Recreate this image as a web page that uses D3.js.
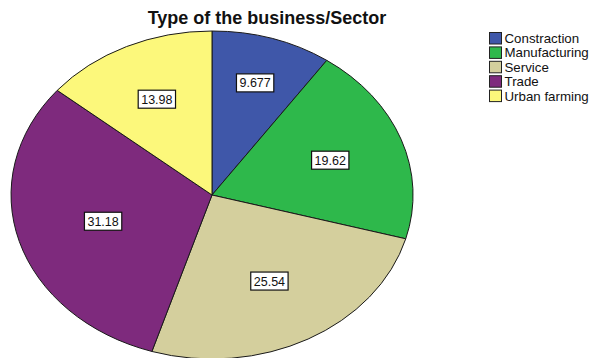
<!DOCTYPE html>
<html>
<head>
<meta charset="utf-8">
<script src="https://cdn.jsdelivr.net/npm/d3@7"></script>
<style>
  html, body { margin: 0; padding: 0; background: #fff; }
  svg { display: block; font-family: "Liberation Sans", Arial, sans-serif; }
</style>
</head>
<body>
<svg id="chart" width="593" height="358"></svg>
<script>
// Share of respondents by type of business (percent)
const categories = ["Constraction", "Manufacturing", "Service", "Trade", "Urban farming"];
const values = [9.677, 19.62, 25.54, 31.18, 13.98];
const valueLabels = ["9.677", "19.62", "25.54", "31.18", "13.98"];
const colors = ["#3f57a9", "#2eb84b", "#d4cf9d", "#7e2a7d", "#fcf87b"];

const svg = d3.select("#chart");

// Elliptical pie: drawn on a unit circle, then stretched
const cx = 212, cy = 195, rx = 201, ry = 164;

const pie = d3.pie().sort(null).value(d => d)(values);
const arc = d3.arc().innerRadius(0).outerRadius(1);

const color = d3.scaleOrdinal().domain(categories).range(colors);

const pieG = svg.append("g")
  .attr("transform", `translate(${cx},${cy}) scale(${rx},${ry})`);

pieG.selectAll("path")
  .data(pie)
  .join("path")
  .attr("d", arc)
  .attr("fill", (d, i) => color(categories[i]))
  .attr("stroke", "#1a1a1a")
  .attr("stroke-width", 1)
  .attr("vector-effect", "non-scaling-stroke");

// Value labels in white boxes, placed at each sector's area centroid
const labG = svg.append("g");
pie.forEach((d, i) => {
  const half = (d.endAngle - d.startAngle) / 2;
  const mid = d.startAngle + half;
  const r = (2 * Math.sin(half)) / (3 * half) + (half < 0.35 ? 0.06 : 0);
  const x = cx + Math.sin(mid) * r * rx;
  const y = cy - Math.cos(mid) * r * ry;
  const g = labG.append("g").attr("transform", `translate(${x},${y})`);
  const t = g.append("text")
    .attr("text-anchor", "middle")
    .attr("dy", "0.36em")
    .attr("font-size", 12.5)
    .attr("fill", "#111")
    .text(valueLabels[i]);
  const bb = t.node().getBBox();
  g.insert("rect", "text")
    .attr("x", bb.x - 3).attr("y", -9)
    .attr("width", bb.width + 6).attr("height", 18)
    .attr("fill", "#fff")
    .attr("stroke", "#111")
    .attr("stroke-width", 1.2);
});

// Title
svg.append("text")
  .attr("x", 267).attr("y", 24)
  .attr("text-anchor", "middle")
  .attr("font-size", 18)
  .attr("font-weight", "bold")
  .attr("fill", "#111")
  .text("Type of the business/Sector");

// Legend
const leg = svg.append("g").attr("transform", "translate(489,32)");
const rows = leg.selectAll("g")
  .data(categories)
  .join("g")
  .attr("transform", (d, i) => `translate(0,${i * 14.4})`);
rows.append("rect")
  .attr("x", 0.5).attr("y", 0.5)
  .attr("width", 12).attr("height", 11.5)
  .attr("fill", d => color(d))
  .attr("stroke", "#222")
  .attr("stroke-width", 1);
rows.append("text")
  .attr("x", 15.5).attr("y", 11)
  .attr("font-size", 13.3)
  .attr("fill", "#111")
  .text(d => d);
</script>
</body>
</html>
